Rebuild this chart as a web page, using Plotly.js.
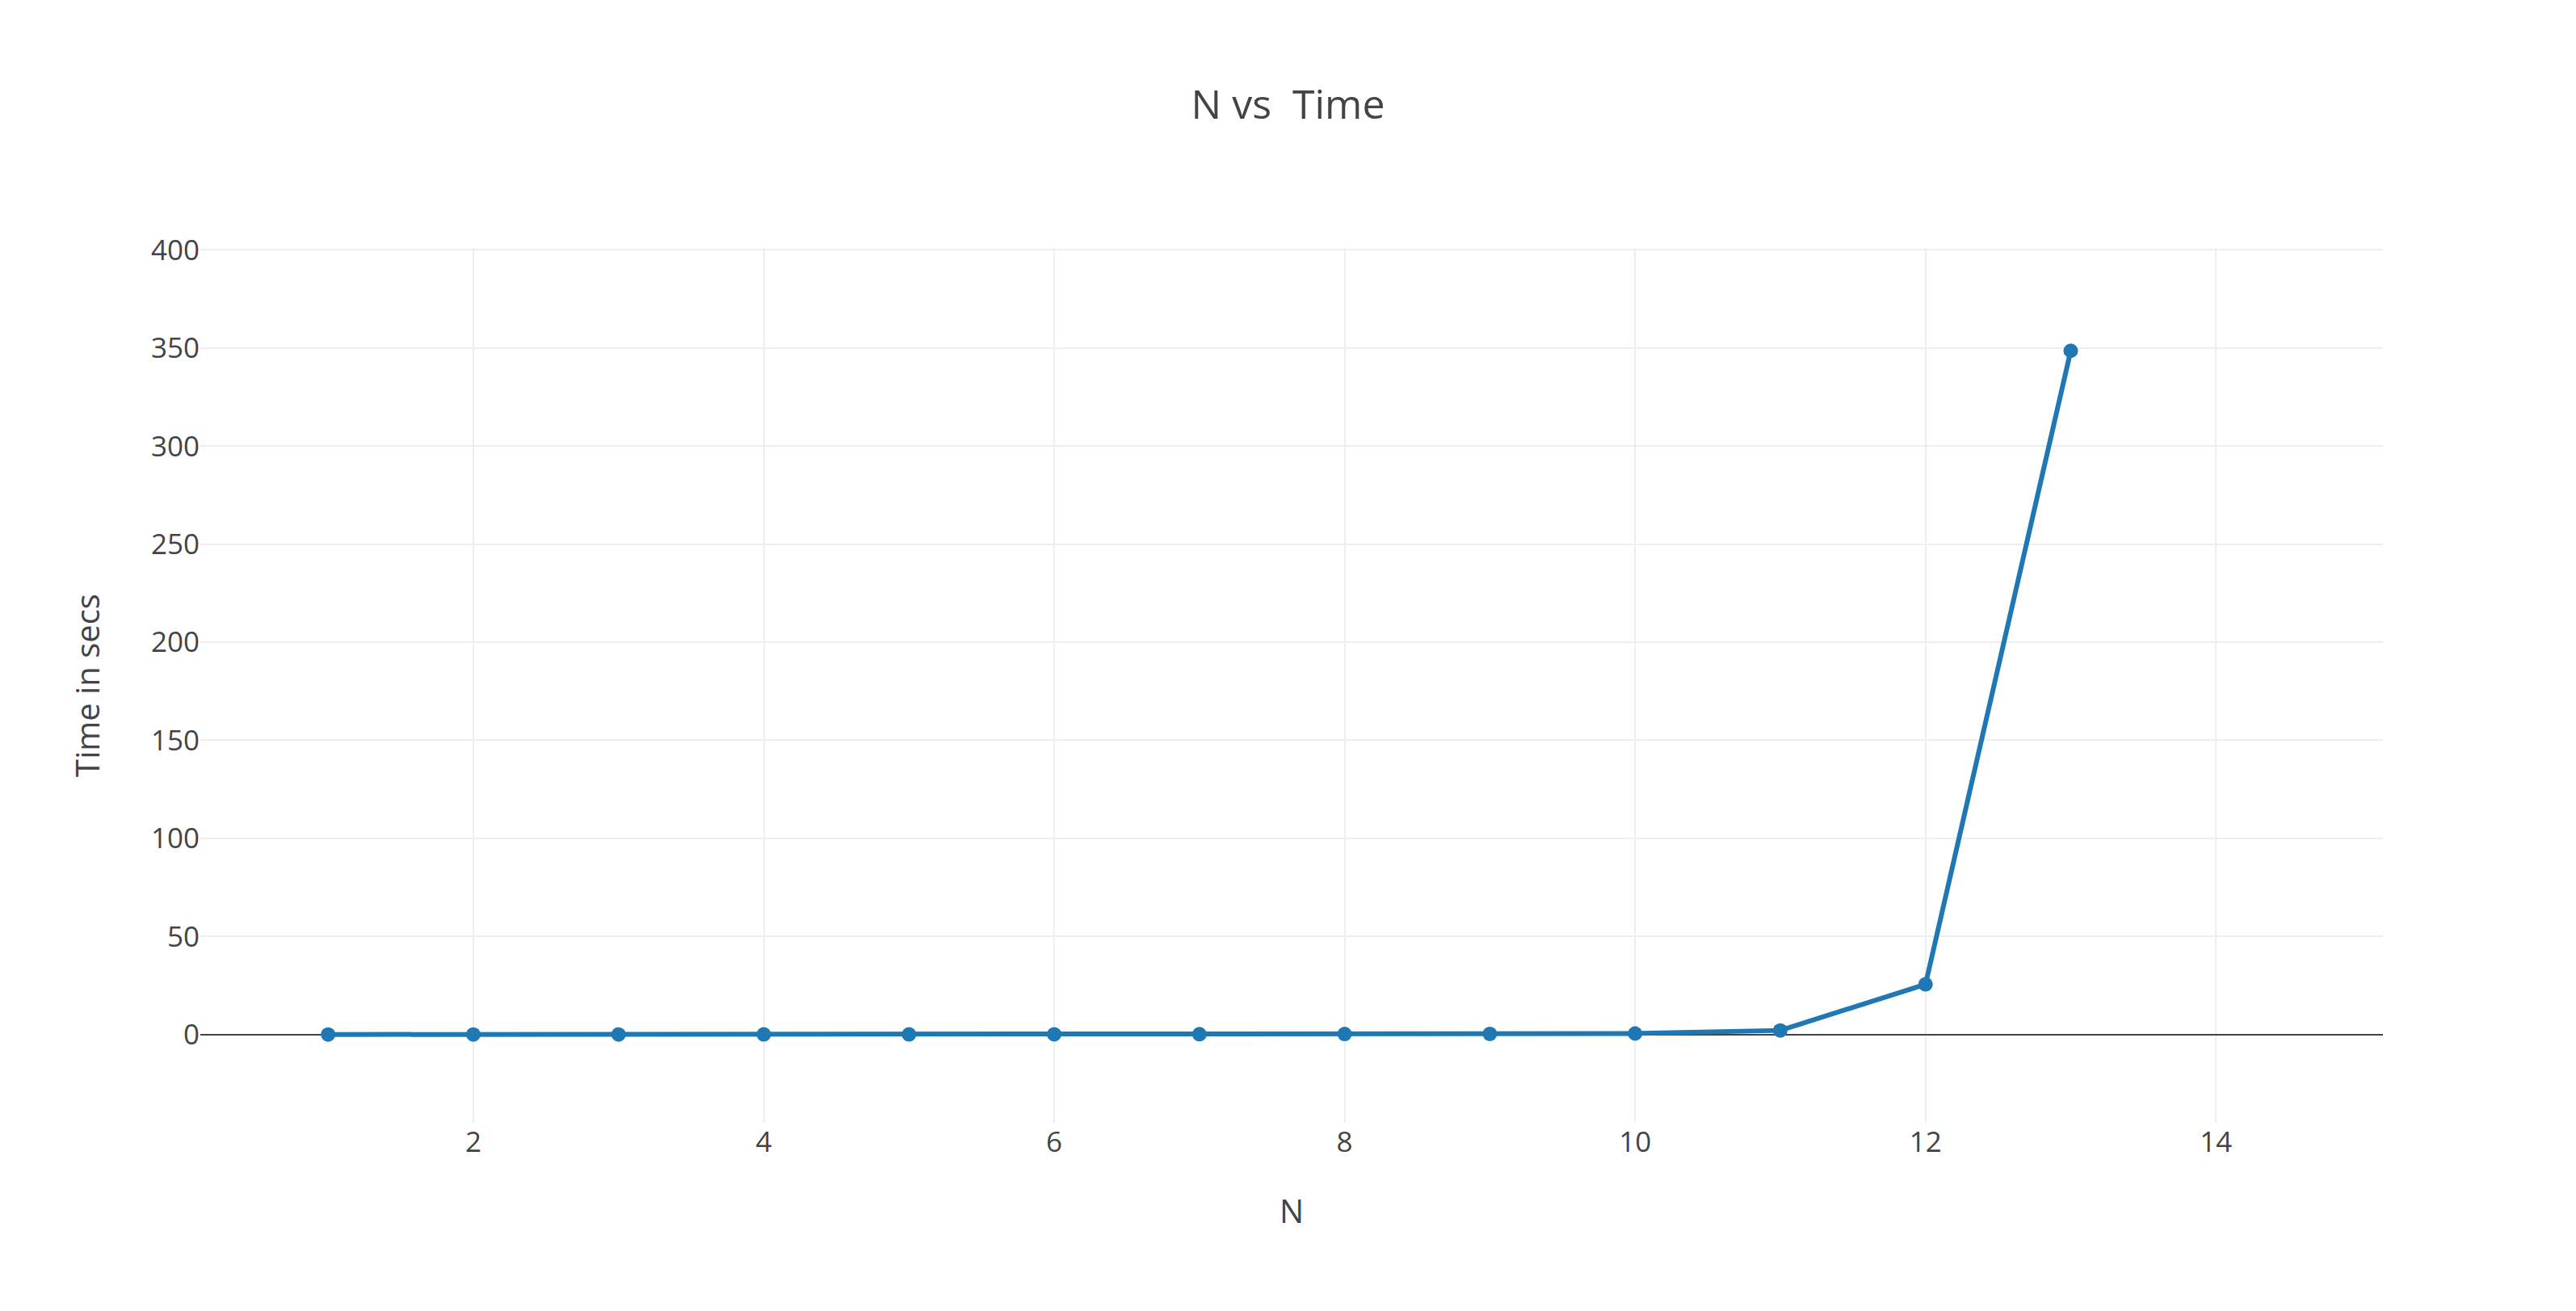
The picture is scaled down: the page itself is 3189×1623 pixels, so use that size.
<!DOCTYPE html>
<html>
<head>
<meta charset="utf-8">
<script src="https://cdn.plot.ly/plotly-3.0.1.min.js"></script>
<style>html,body{margin:0;padding:0;background:#fff}#chart{width:3189px;height:1623px}</style>
</head>
<body>
<div id="chart"></div>
<script>
var nValues = [1, 2, 3, 4, 5, 6, 7, 8, 9, 10, 11, 12, 13];
var timeSecs = [0.01, 0.02, 0.03, 0.05, 0.08, 0.12, 0.18, 0.25, 0.35, 0.5, 2.1, 25.6, 348.6];

var trace = {
  type: 'scatter',
  mode: 'lines+markers',
  x: nValues,
  y: timeSecs,
  line: { color: '#1f77b4', width: 6 },
  marker: { color: '#1f77b4', size: 18 }
};

var layout = {
  width: 3189,
  height: 1623,
  font: { family: 'Open Sans, sans-serif', size: 35, color: '#444' },
  title: { text: 'N vs  Time', font: { size: 50 }, y: 0.92, yanchor: 'middle' },
  margin: { l: 248, r: 239, t: 307, b: 233 },
  showlegend: false,
  xaxis: {
    title: { text: 'N', font: { size: 40 }, standoff: 50 },
    range: [0.12, 15.15],
    dtick: 2,
    gridcolor: '#eeeeee',
    gridwidth: 2,
    zeroline: false,
    automargin: false
  },
  yaxis: {
    title: { text: 'Time in secs', font: { size: 40 }, standoff: 50 },
    range: [-45, 401],
    dtick: 50,
    gridcolor: '#eeeeee',
    gridwidth: 2,
    zeroline: true,
    zerolinecolor: '#444',
    zerolinewidth: 2,
    automargin: false
  }
};

Plotly.newPlot('chart', [trace], layout, { displayModeBar: false, staticPlot: true });
</script>
</body>
</html>
